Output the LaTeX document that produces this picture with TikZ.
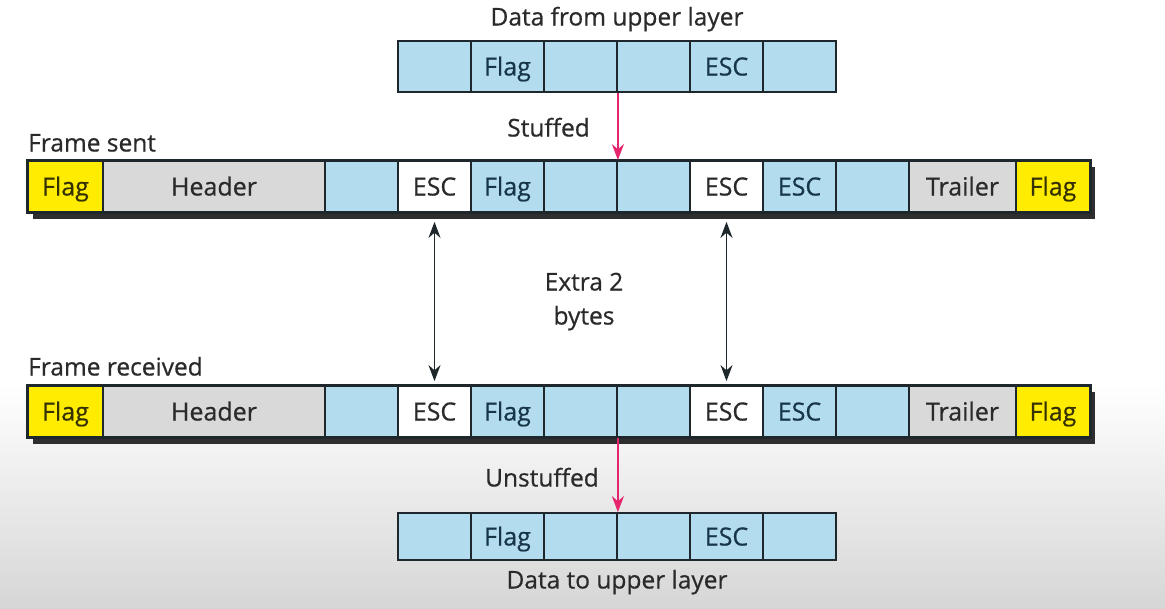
\documentclass[tikz,border=0pt]{standalone}
\usepackage{fontspec}
\setmainfont{Open Sans}[FakeBold=0.6]
\usetikzlibrary{positioning}
\usetikzlibrary{arrows.meta}
\definecolor{cellBlue}{HTML}{B3DCEE}
\definecolor{cellGrey}{HTML}{D9D9D9}
\definecolor{cellYellow}{HTML}{FFEC00}
\definecolor{lineColor}{HTML}{1E272C}
\definecolor{labelColor}{HTML}{2A2A2A}
\definecolor{blueText}{HTML}{173647}
\definecolor{yellowText}{HTML}{353100}
\definecolor{stuffColor}{HTML}{E5266E}
\definecolor{shadowColor}{HTML}{2E2E2E}
\definecolor{bgBottom}{HTML}{D6D6D6}

\begin{document}
\begin{tikzpicture}[x=1pt,y=-1pt]

            \tikzstyle{cell} = [draw=lineColor, line width=1.8pt, minimum height=51pt, inner sep=0pt, text height=18pt, text depth=0pt, font=\fontsize{25}{28}\selectfont];
            \tikzstyle{blueCell} = [cell, fill=cellBlue, text=blueText, minimum width=73pt];
            \tikzstyle{whiteCell} = [cell, fill=white, text=labelColor, minimum width=73pt];
            \tikzstyle{greyCell} = [cell, fill=cellGrey, text=labelColor];
            \tikzstyle{flagCell} = [cell, fill=cellYellow, text=yellowText];
            \tikzstyle{frameLabel} = [text=labelColor, inner sep=0pt, text height=17pt, text depth=0pt, font=\fontsize{24.5}{34}\selectfont];
            \tikzstyle{stuffArrow} = [line width=2pt, stuffColor, -{Stealth[length=16pt, width=12pt]}];
            \tikzstyle{extraArrow} = [line width=1.8pt, lineColor, {Stealth[length=16pt, width=12pt]}-{Stealth[length=16pt, width=12pt]}];

            % background
            \fill[white] (0,0) rectangle (1165,608);
            \shade[top color=white, bottom color=bgBottom] (0,384) rectangle (1165,608);

            % data from upper layer
            \node[frameLabel] (dataUp) at (617,17) {Data from upper layer};
            \node[blueCell] (up1) at (434.5,66.5) {};
            \node[blueCell] (up2) at (507.5,66.5) {Flag};
            \node[blueCell] (up3) at (580.5,66.5) {};
            \node[blueCell] (up4) at (653.5,66.5) {};
            \node[blueCell] (up5) at (726.5,66.5) {ESC};
            \node[blueCell] (up6) at (799.5,66.5) {};

            % frame sent
            \node[frameLabel, anchor=west] (sentLabel) at (28,143) {Frame sent};
            \fill[shadowColor] (33,167) rectangle (1095,219);
            \node[flagCell, minimum width=75pt] (s1) at (65.5,186.5) {Flag};
            \node[greyCell, minimum width=222pt] (s2) at (214,186.5) {Header};
            \node[blueCell] (s3) at (361.5,186.5) {};
            \node[whiteCell] (s4) at (434.5,186.5) {ESC};
            \node[blueCell] (s5) at (507.5,186.5) {Flag};
            \node[blueCell] (s6) at (580.5,186.5) {};
            \node[blueCell] (s7) at (653.5,186.5) {};
            \node[whiteCell] (s8) at (726.5,186.5) {ESC};
            \node[blueCell] (s9) at (799.5,186.5) {ESC};
            \node[blueCell] (s10) at (872.5,186.5) {};
            \node[greyCell, minimum width=107pt] (s11) at (962.5,186.5) {Trailer};
            \node[flagCell, minimum width=74pt] (s12) at (1053,186.5) {Flag};
            \draw[lineColor, line width=2.4pt] (s1.north west) rectangle (s12.south east);

            % frame received
            \node[frameLabel, anchor=west] (recvLabel) at (28,367) {Frame received};
            \fill[shadowColor] (33,392) rectangle (1095,444);
            \node[flagCell, minimum width=75pt] (r1) at (65.5,411.5) {Flag};
            \node[greyCell, minimum width=222pt] (r2) at (214,411.5) {Header};
            \node[blueCell] (r3) at (361.5,411.5) {};
            \node[whiteCell] (r4) at (434.5,411.5) {ESC};
            \node[blueCell] (r5) at (507.5,411.5) {Flag};
            \node[blueCell] (r6) at (580.5,411.5) {};
            \node[blueCell] (r7) at (653.5,411.5) {};
            \node[whiteCell] (r8) at (726.5,411.5) {ESC};
            \node[blueCell] (r9) at (799.5,411.5) {ESC};
            \node[blueCell] (r10) at (872.5,411.5) {};
            \node[greyCell, minimum width=107pt] (r11) at (962.5,411.5) {Trailer};
            \node[flagCell, minimum width=74pt] (r12) at (1053,411.5) {Flag};
            \draw[lineColor, line width=2.4pt] (r1.north west) rectangle (r12.south east);

            % data to upper layer
            \node[blueCell, minimum height=47pt] (down1) at (434.5,536.5) {};
            \node[blueCell, minimum height=47pt] (down2) at (507.5,536.5) {Flag};
            \node[blueCell, minimum height=47pt] (down3) at (580.5,536.5) {};
            \node[blueCell, minimum height=47pt] (down4) at (653.5,536.5) {};
            \node[blueCell, minimum height=47pt] (down5) at (726.5,536.5) {ESC};
            \node[blueCell, minimum height=47pt] (down6) at (799.5,536.5) {};
            \node[frameLabel] (dataDown) at (617,580) {Data to upper layer};

            % stuffing and unstuffing
            \draw[stuffArrow] (up3.south east) -- (s6.north east);
            \node[frameLabel, anchor=east] (stuffed) at (590,128) {Stuffed};
            \draw[stuffArrow] (r6.south east) -- (down3.north east);
            \node[frameLabel, anchor=east] (unstuffed) at (599,478) {Unstuffed};

            % extra bytes
            \draw[extraArrow, shorten <=9pt, shorten >=4pt] (s4.south) -- (r4.north);
            \draw[extraArrow, shorten <=9pt, shorten >=4pt] (s8.south) -- (r8.north);
            \node[frameLabel, align=center] (extra) at (584,316) {Extra 2\\bytes};

\end{tikzpicture}
\end{document}
